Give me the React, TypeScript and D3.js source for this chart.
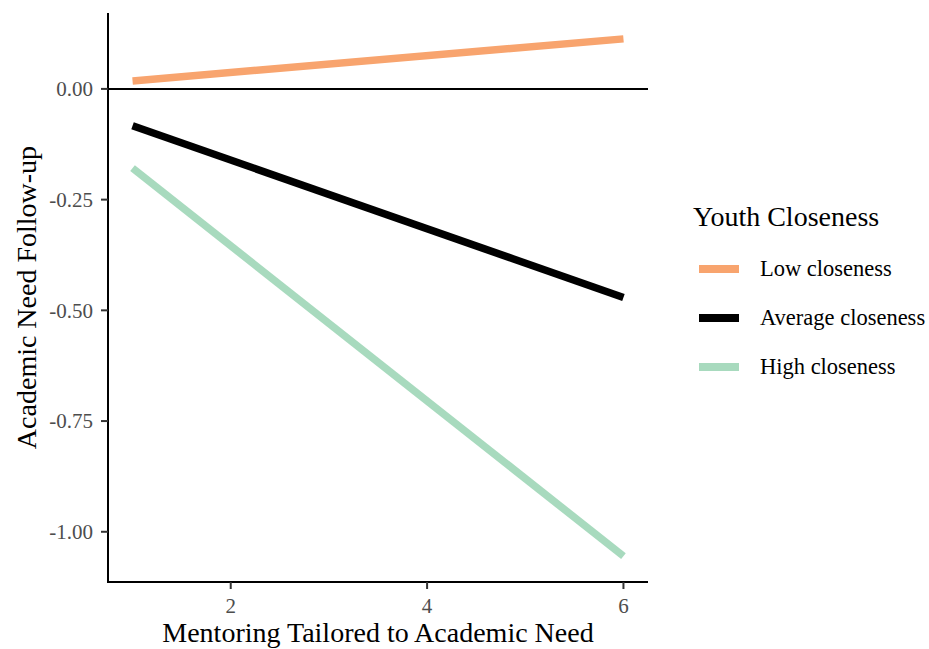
import React from 'react'
import * as d3 from 'd3'

const width = 929
const height = 649
const margin = { top: 13, right: 281, bottom: 67, left: 108 }

// x values where the simple slopes are evaluated
const xValues = [1, 6]
const seriesNames = ['Low closeness', 'Average closeness', 'High closeness']
const lowValues = [0.018, 0.113]
const avgValues = [-0.083, -0.471]
const highValues = [-0.179, -1.055]
const seriesColors = ['#F8A46E', '#000000', '#A8DABE']
const xTicks = [2, 4, 6]
const yTicks = [0, -0.25, -0.5, -0.75, -1.0]

const font = '"Liberation Serif", "Times New Roman", serif'
// ggplot style labels use a plain hyphen for negatives
const fmt = (v: number) => d3.format('.2f')(v).replace('\u2212', '-')

export default function App() {
  const allY = [...lowValues, ...avgValues, ...highValues]
  const yMin = d3.min(allY)!
  const yMax = d3.max(allY)!
  const yPad = (yMax - yMin) * 0.05
  const xPad = (xValues[1] - xValues[0]) * 0.05

  const xScale = d3.scaleLinear()
    .domain([xValues[0] - xPad, xValues[1] + xPad])
    .range([margin.left, width - margin.right])
  const yScale = d3.scaleLinear()
    .domain([yMin - yPad, yMax + yPad])
    .range([height - margin.bottom, margin.top])

  const line = d3.line<number>()
    .x((d, i) => xScale(xValues[i]))
    .y(d => yScale(d))

  const series = [lowValues, avgValues, highValues]
  const plotBottom = height - margin.bottom
  const plotRight = width - margin.right

  return (
    <svg width={width} height={height}
      style={{ position: 'absolute', left: 0, top: 0, background: '#fff' }}>
      {/* zero reference line */}
      <line x1={margin.left} x2={plotRight} y1={yScale(0)} y2={yScale(0)}
        stroke="#000" strokeWidth={2} />
      {series.map((s, i) => (
        <path key={i} d={line(s) || ''} fill="none" stroke={seriesColors[i]}
          strokeWidth={7.5} />
      ))}

      {/* axes */}
      <line x1={margin.left} x2={margin.left} y1={margin.top} y2={plotBottom + 1}
        stroke="#000" strokeWidth={2} />
      <line x1={margin.left - 1} x2={plotRight} y1={plotBottom} y2={plotBottom}
        stroke="#000" strokeWidth={2} />
      {yTicks.map(t => (
        <g key={t} transform={`translate(${margin.left}, ${yScale(t)})`}>
          <line x1={-7} x2={0} stroke="#333" strokeWidth={2} />
          <text x={-15} dy="0.35em" textAnchor="end" fontFamily={font}
            fontSize={21} fill="#4D4D4D">{fmt(t)}</text>
        </g>
      ))}
      {xTicks.map(t => (
        <g key={t} transform={`translate(${xScale(t)}, ${plotBottom})`}>
          <line y1={0} y2={7} stroke="#333" strokeWidth={2} />
          <text y={31} textAnchor="middle" fontFamily={font}
            fontSize={21} fill="#4D4D4D">{t}</text>
        </g>
      ))}

      {/* axis titles */}
      <text x={(margin.left + plotRight) / 2} y={642} textAnchor="middle"
        fontFamily={font} fontSize={28} fill="#000">
        Mentoring Tailored to Academic Need
      </text>
      <text transform={`translate(36, ${(margin.top + plotBottom) / 2}) rotate(-90)`}
        textAnchor="middle" fontFamily={font} fontSize={28} fill="#000">
        Academic Need Follow-up
      </text>

      {/* legend */}
      <text x={693} y={226} fontFamily={font} fontSize={28} fill="#000">
        Youth Closeness
      </text>
      {seriesNames.map((name, i) => (
        <g key={name} transform={`translate(699, ${269 + i * 49})`}>
          <line x1={0} x2={40} stroke={seriesColors[i]} strokeWidth={8} />
          <text x={61} dy="0.33em" fontFamily={font} fontSize={22.5} fill="#000">
            {name}
          </text>
        </g>
      ))}
    </svg>
  )
}
